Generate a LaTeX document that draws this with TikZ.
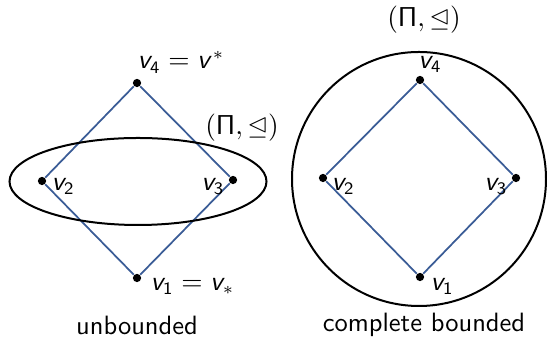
\documentclass[tikz,border=0pt]{standalone}
\usepackage{amssymb}
\DeclareMathAlphabet{\mathsfit}{OT1}{cmss}{m}{sl}
\newcommand{\vx}[1]{\mathsfit{v}_{\mathsf{#1}}}
\newcommand{\poset}{$\mathopen{\mathsf{(}}\mathsf{\Pi},\trianglelefteq\mathclose{\mathsf{)}}$}
\definecolor{edgeblue}{RGB}{58,92,150}
\tikzset{
  dot/.style={circle,fill=black,inner sep=0pt,minimum size=3.3pt},
  edge/.style={edgeblue,line width=0.7pt},
  ring/.style={black,line width=0.8pt},
  lbl/.style={inner sep=0pt,font=\sffamily\fontsize{10.6}{13}\selectfont}
}
\begin{document}
\begin{tikzpicture}[x=0.4pt,y=-0.4pt]
\useasboundingbox (0,0) rectangle (547,337);
% left
\node[dot] (a4) at (137,83) {};
\node[dot] (a2) at (42,181) {};
\node[dot] (a3) at (233,180) {};
\node[dot] (a1) at (137,278) {};
\draw[edge] (a1) -- (a2) -- (a4) -- (a3) -- (a1);
\draw[ring] (138,181.5) ellipse [x radius=128.5, y radius=43.5];
\node[lbl,anchor=west] (la4) at (137,62) {$\vx{4} = \mathsfit{v}^*$};
\node[lbl] (lpi1) at (242,128) {\poset};
\node[lbl,anchor=west] (la2) at (51,186) {$\vx{2}$};
\node[lbl,anchor=east] (la3) at (225,186) {$\vx{3}$};
\node[lbl,anchor=west] (la1) at (150,286) {$\vx{1} = \mathsfit{v}_*$};
\node[lbl] (cap1) at (137,325) {unbounded};
% right
\node[dot] (b4) at (420,80) {};
\node[dot] (b2) at (323,178) {};
\node[dot] (b3) at (516,178) {};
\node[dot] (b1) at (420,277) {};
\draw[edge] (b1) -- (b2) -- (b4) -- (b3) -- (b1);
\draw[ring] (419,179) circle [radius=127];
\node[lbl] (lb4) at (430,64) {$\vx{4}$};
\node[lbl] (lpi2) at (424,20) {\poset};
\node[lbl,anchor=west] (lb2) at (331,186) {$\vx{2}$};
\node[lbl,anchor=east] (lb3) at (508,186) {$\vx{3}$};
\node[lbl,anchor=west] (lb1) at (430,286) {$\vx{1}$};
\node[lbl] (cap2) at (424,325) {complete bounded};
\end{tikzpicture}
\end{document}
